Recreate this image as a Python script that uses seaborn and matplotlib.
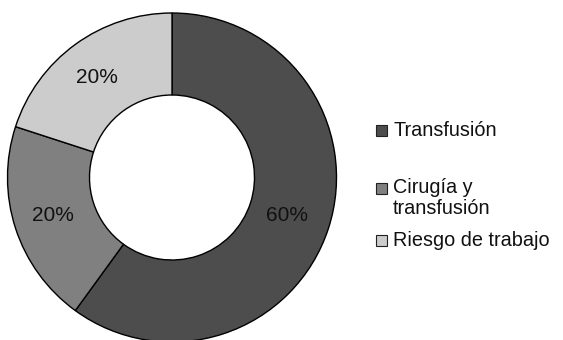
import matplotlib
matplotlib.use("Agg")
import matplotlib.pyplot as plt
import seaborn as sns
import numpy as np
from matplotlib.patches import Rectangle

sns.set_theme(style="white")
plt.rcParams['font.family'] = ['Liberation Sans', 'DejaVu Sans']

categories = ["Transfusión", "Cirugía y\ntransfusión", "Riesgo de trabajo"]
values = [60, 20, 20]
colors = ["#4d4d4d", "#808080", "#cccccc"]

W, H = 563, 340
fig = plt.figure(figsize=(W / 100, H / 100), dpi=100)
ax = fig.add_axes([0, 0, 1, 1])

cx, cy, R = 172, H - 177.5, 164.5
width = 82
ax.pie(values, colors=colors, startangle=90, counterclock=False,
       center=(cx, cy), radius=R,
       wedgeprops=dict(width=width, edgecolor="black", linewidth=1.0),
       frame=True)
ax.set_xlim(0, W)
ax.set_ylim(0, H)
ax.axis("off")

total = sum(values)
start = 90.0
rmid = R - width / 2
for v in values:
    ang = start - 360 * v / total / 2
    x = cx + rmid * np.cos(np.radians(ang))
    y = cy + rmid * np.sin(np.radians(ang))
    ax.text(x - 2, y, f"{v}%", ha="center", va="center", fontsize=15, color="#111111")
    start -= 360 * v / total

# legend
leg_y = [H - 130, H - 188, H - 240]
for lab, col, y in zip(categories, colors, leg_y):
    ax.add_patch(Rectangle((376, y - 5.5), 11, 11, facecolor=col, edgecolor="#222222", linewidth=0.8))
    if "\n" in lab:
        ax.text(393, y + 10, lab, ha="left", va="top",
                fontsize=14.3, color="#111111", linespacing=1.1)
    else:
        ax.text(393, y, lab, ha="left", va="center", fontsize=14.3, color="#111111")

fig.savefig("out.png", dpi=100)
